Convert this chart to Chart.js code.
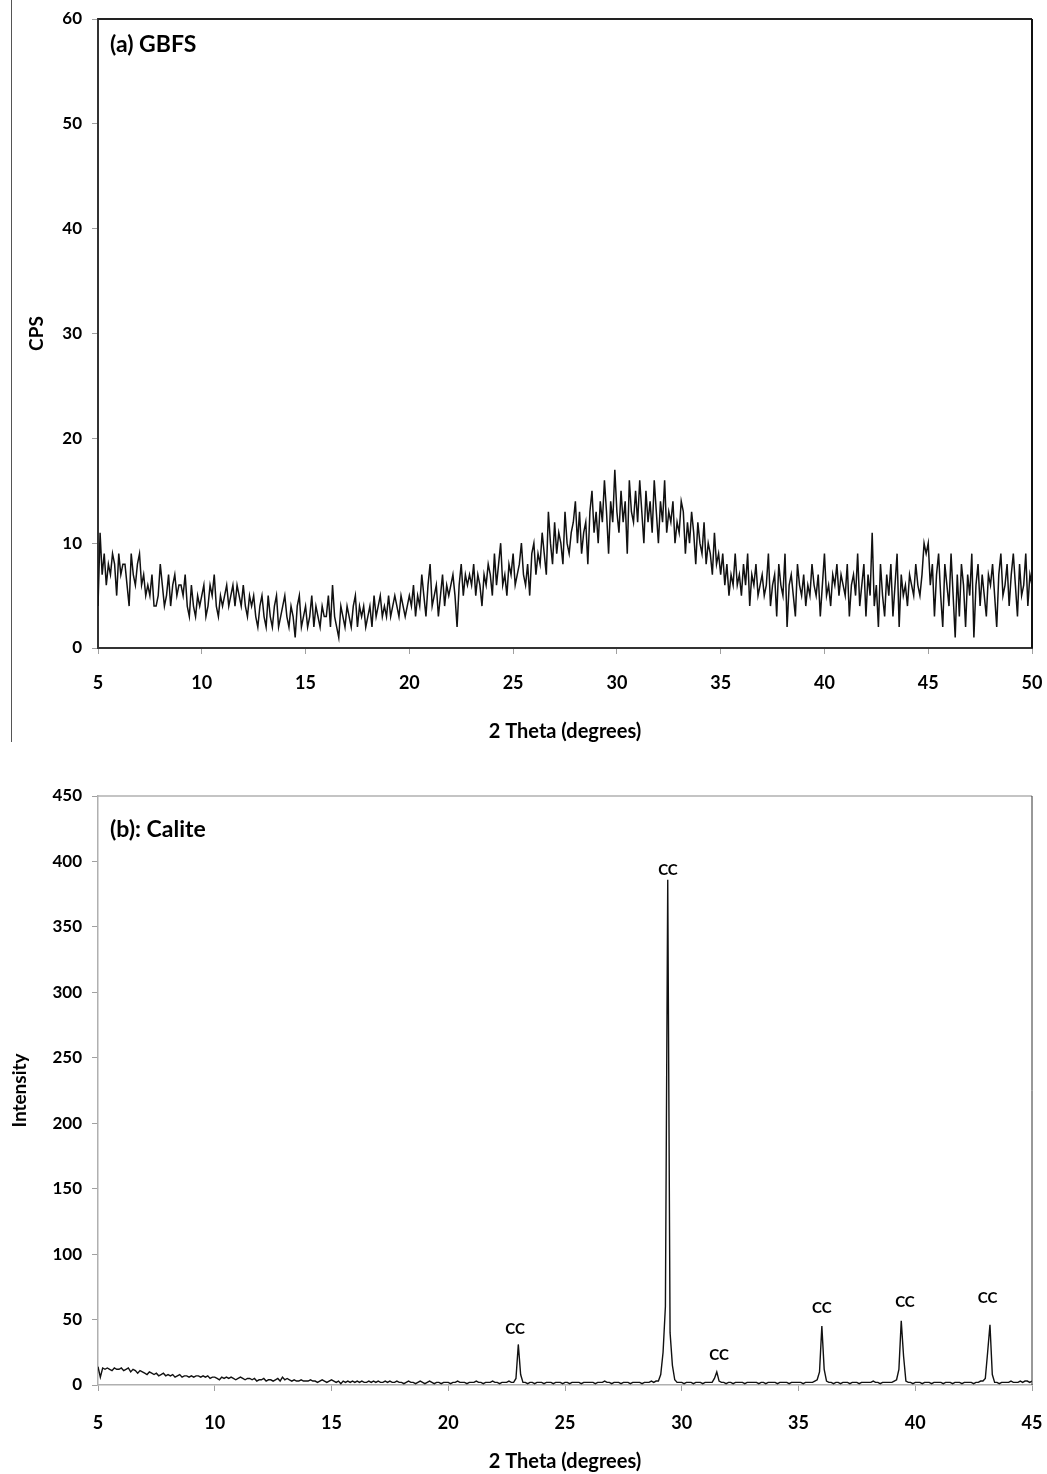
<!DOCTYPE html>
<html><head><meta charset="utf-8">
<script src="https://cdn.jsdelivr.net/npm/chart.js@4/dist/chart.umd.min.js"></script>
<style>
html,body{margin:0;padding:0;background:#fff;}
body{width:1047px;height:1474px;position:relative;overflow:hidden;}
#wa{position:absolute;left:0;top:0;width:1047px;height:745px;}
#wb{position:absolute;left:0;top:750px;width:1047px;height:724px;}
#vline{position:absolute;left:11px;top:0;width:1px;height:742px;background:#555;}
</style></head><body>
<div id="vline"></div>
<div id="wa"><canvas id="ca"></canvas></div>
<div id="wb"><canvas id="cb"></canvas></div>
<script>
// ---------- DATA ----------
const panelLabelA = '(a) GBFS';
const panelLabelB = '(b): Calite';
const xTitle = '2 Theta (degrees)';
const yTitleA = 'CPS';
const yTitleB = 'Intensity';

// (a) GBFS: 2-theta from 5 to 50, step 0.1
const gbfsStart = 5, gbfsStep = 0.1;
const gbfsCps = [
4,11,7,9,6,8,7,9,8,5,
9,7,8,8,6,4,9,7,6,8,
9,6,7,5,6,5,7,4,4,5,
8,6,4,5,7,4,6,7,5,6,
6,5,7,4,3,6,4,3,5,4,
5,6,3,4,6,5,7,4,3,5,
4,5,6,4,5,6,4,6,5,4,
6,4,3,5,4,5,3,2,4,5,
3,2,5,3,2,4,5,2,3,4,
5,3,2,4,3,1,4,5,2,3,
4,2,3,5,2,4,3,2,4,3,
3,5,2,6,3,2,1,4,3,2,
4,3,2,4,5,2,4,3,4,2,
3,4,2,5,3,4,5,3,4,3,
5,3,4,5,4,3,5,4,3,4,
5,4,6,3,5,4,7,5,3,6,
8,4,5,6,3,5,7,4,6,5,
6,7,5,2,6,8,5,7,6,7,
6,8,5,7,6,4,7,6,8,7,
5,9,6,8,10,6,7,5,8,7,
9,6,7,8,10,7,6,8,5,9,
10,7,9,8,11,9,7,13,10,8,
12,9,11,10,8,13,10,9,11,12,
14,10,13,9,11,12,8,13,15,11,
13,10,14,12,16,13,9,14,12,17,
13,11,15,12,14,9,16,13,12,15,
12,16,13,10,15,12,14,11,16,13,
10,14,12,16,11,13,12,14,10,12,
11,14,13,9,12,10,13,11,8,12,
10,9,12,8,10,9,7,11,8,9,
7,9,6,8,5,7,6,9,6,7,
5,8,6,9,4,7,6,8,5,6,
7,5,6,9,4,6,7,3,8,6,
5,9,2,6,7,5,3,8,6,5,
7,4,6,5,8,6,5,7,3,6,
9,5,6,4,7,6,8,5,7,6,
5,8,3,6,7,5,9,4,6,8,
3,7,5,11,4,6,2,8,5,3,
7,5,8,3,6,9,2,7,5,6,
4,7,6,5,8,6,5,7,10,9,
10,6,8,3,7,9,5,2,8,6,
4,9,5,1,7,3,8,6,2,7,
5,9,1,6,8,4,7,5,3,7,
6,8,5,2,7,9,5,6,8,4,
7,9,6,3,8,5,6,9,4,7,
6
];

// (b) Calite: 2-theta from 5 to 45, step 0.1
const caliteStart = 5, caliteStep = 0.1;
const caliteIntensity = [
14,6,13,12,13,12,11,13,12,12,
13,11,12,13,10,12,11,9,11,10,
9,8,10,9,8,9,7,8,9,7,
8,7,8,6,7,8,6,7,7,6,
7,6,7,7,6,7,6,7,5,6,
6,5,4,6,5,6,5,6,5,4,
5,6,5,4,5,5,4,5,3,4,
4,5,3,4,4,3,4,5,3,6,
4,5,4,3,4,3,3,4,3,3,
3,4,3,3,2,3,4,3,2,3,
4,3,2,3,1,3,2,3,2,3,
2,3,2,3,2,2,3,2,3,2,
3,2,2,3,2,3,2,2,3,2,
2,1,2,3,2,2,1,2,3,2,
1,2,3,2,1,2,2,1,2,2,
2,1,2,2,3,2,2,2,1,2,
2,2,3,2,2,1,2,2,2,3,
2,2,1,2,2,2,3,2,2,5,
31,8,2,2,1,2,2,1,2,2,
2,1,2,2,2,1,2,2,2,1,
2,2,1,2,2,2,2,1,2,2,
2,2,2,1,2,2,2,3,2,2,
1,2,2,2,1,2,2,2,1,2,
2,2,2,1,2,2,2,3,2,3,
3,8,25,60,386,40,15,4,2,2,
2,1,2,2,2,1,2,2,2,1,
2,2,2,2,5,10,3,2,2,1,
2,2,1,2,2,2,2,1,2,2,
2,2,2,1,2,2,1,2,2,2,
2,1,2,2,2,2,1,2,2,2,
2,2,1,2,2,2,2,3,4,10,
45,12,3,2,2,1,2,2,1,2,
2,2,1,2,2,2,1,2,2,2,
2,2,3,2,2,1,2,2,2,2,
2,3,4,12,49,22,3,2,2,1,
2,2,2,1,2,2,2,1,2,2,
2,2,1,2,2,2,1,2,2,2,
1,2,2,2,2,1,2,2,3,3,
5,25,46,8,2,2,1,2,2,2,
2,3,2,2,2,3,2,3,3,2,
3
];

// peak labels for (b)
const ccText = 'CC';
const ccX = [22.86, 29.41, 31.6, 36.0, 39.56, 43.1];
const ccLabelY = [43, 393, 23, 59, 63, 66];

// axis ranges / tick steps
const xRangeA = [5, 50], yRangeA = [0, 60], yStepA = 10;
const xRangeB = [5, 45], yRangeB = [0, 450], yStepB = 50;
const xStep = 5;

// ---------- RENDER ----------
const FONT = 'Lato, "Open Sans", sans-serif';

function toPoints(start, step, arr){
  return arr.map((v,i)=>({x: +(start + i*step).toFixed(3), y: v}));
}

function framePlugin(id, topStyle, rightStyle){
  return {
    id,
    afterDatasetsDraw(chart){
      const {ctx, chartArea:{left,top,right,bottom}} = chart;
      ctx.save();
      ctx.strokeStyle = topStyle.color; ctx.lineWidth = topStyle.width;
      ctx.beginPath(); ctx.moveTo(left, top); ctx.lineTo(right, top); ctx.stroke();
      ctx.strokeStyle = rightStyle.color; ctx.lineWidth = rightStyle.width;
      ctx.beginPath(); ctx.moveTo(right, top); ctx.lineTo(right, bottom); ctx.stroke();
      ctx.restore();
    }
  };
}

function panelLabelPlugin(id, text, dy){
  return {
    id,
    afterDraw(chart){
      const {ctx, chartArea:{left,top}} = chart;
      ctx.save();
      ctx.fillStyle = '#000';
      ctx.font = 'bold 23px ' + FONT;
      ctx.textAlign = 'left'; ctx.textBaseline = 'middle';
      ctx.fillText(text, left + 12, top + dy);
      ctx.restore();
    }
  };
}

const ccPlugin = {
  id: 'ccLabels',
  afterDraw(chart){
    const {ctx, scales:{x,y}} = chart;
    ctx.save();
    ctx.fillStyle = '#000';
    ctx.font = 'bold 15px ' + FONT;
    ctx.textAlign = 'center'; ctx.textBaseline = 'middle';
    ccX.forEach((xv,i)=>{
      ctx.fillText(ccText, x.getPixelForValue(xv), y.getPixelForValue(ccLabelY[i]));
    });
    ctx.restore();
  }
};

function makeScales(o){
  return {
    x: {
      type: 'linear', min: o.xr[0], max: o.xr[1],
      ticks: {stepSize: xStep, color: '#000', padding: o.xTickPad, maxRotation: 0, autoSkip: false,
              font: {family: FONT, size: 18, weight: 'bold'}},
      grid: {display: true, drawOnChartArea: false, drawTicks: true, tickLength: 6, color: '#a0a0a0', lineWidth: 1},
      border: {display: true, color: o.axisColor, width: o.axisWidth},
      title: {display: true, text: xTitle, color: '#000', font: {family: FONT, size: 20, weight: 'bold'},
              padding: {top: 0, bottom: o.xTitlePad}},
      afterFit(s){ s.height = o.xh; s.paddingLeft = 0; s.paddingRight = 0; }
    },
    y: {
      type: 'linear', min: o.yr[0], max: o.yr[1],
      ticks: {stepSize: o.ys, color: '#000', padding: 10, font: {family: FONT, size: 17, weight: 'bold'}},
      grid: {display: true, drawOnChartArea: false, drawTicks: true, tickLength: 6, color: '#a0a0a0', lineWidth: 1},
      border: {display: true, color: o.axisColor, width: o.axisWidth},
      title: {display: true, text: o.yTitle, color: '#000', font: {family: FONT, size: 19, weight: 'bold'},
              padding: {top: o.yTitlePad, bottom: 0}},
      afterFit(s){ s.width = 98; s.paddingTop = 0; s.paddingBottom = 0; }
    }
  };
}

const common = {
  responsive: true, maintainAspectRatio: false, animation: false,
  plugins: {legend: {display: false}, tooltip: {enabled: false}},
  elements: {point: {radius: 0}, line: {tension: 0}}
};

new Chart(document.getElementById('ca'), {
  type: 'line',
  data: {datasets: [{data: toPoints(gbfsStart, gbfsStep, gbfsCps), borderColor: '#111', borderWidth: 1.5, fill: false}]},
  options: Object.assign({}, common, {
    layout: {padding: {top: 19, right: 15, left: 0, bottom: 0}},
    scales: makeScales({xr: xRangeA, yr: yRangeA, ys: yStepA, yTitle: yTitleA, axisColor: '#333', axisWidth: 2,
                        xh: 97, xTickPad: 18, xTitlePad: 1, yTitlePad: 25})
  }),
  plugins: [framePlugin('frameA', {color:'#222', width:2}, {color:'#111', width:2}), panelLabelPlugin('plA', panelLabelA, 26)]
});

new Chart(document.getElementById('cb'), {
  type: 'line',
  data: {datasets: [{data: toPoints(caliteStart, caliteStep, caliteIntensity), borderColor: '#111', borderWidth: 1.4, fill: false}]},
  options: Object.assign({}, common, {
    layout: {padding: {top: 46, right: 15, left: 0, bottom: 0}},
    scales: makeScales({xr: xRangeB, yr: yRangeB, ys: yStepB, yTitle: yTitleB, axisColor: '#b0b0b0', axisWidth: 1.5,
                        xh: 89, xTickPad: 21, xTitlePad: 0, yTitlePad: 8})
  }),
  plugins: [framePlugin('frameB', {color:'#b0b0b0', width:1.5}, {color:'#333', width:1}), panelLabelPlugin('plB', panelLabelB, 34), ccPlugin]
});
</script>
</body></html>
